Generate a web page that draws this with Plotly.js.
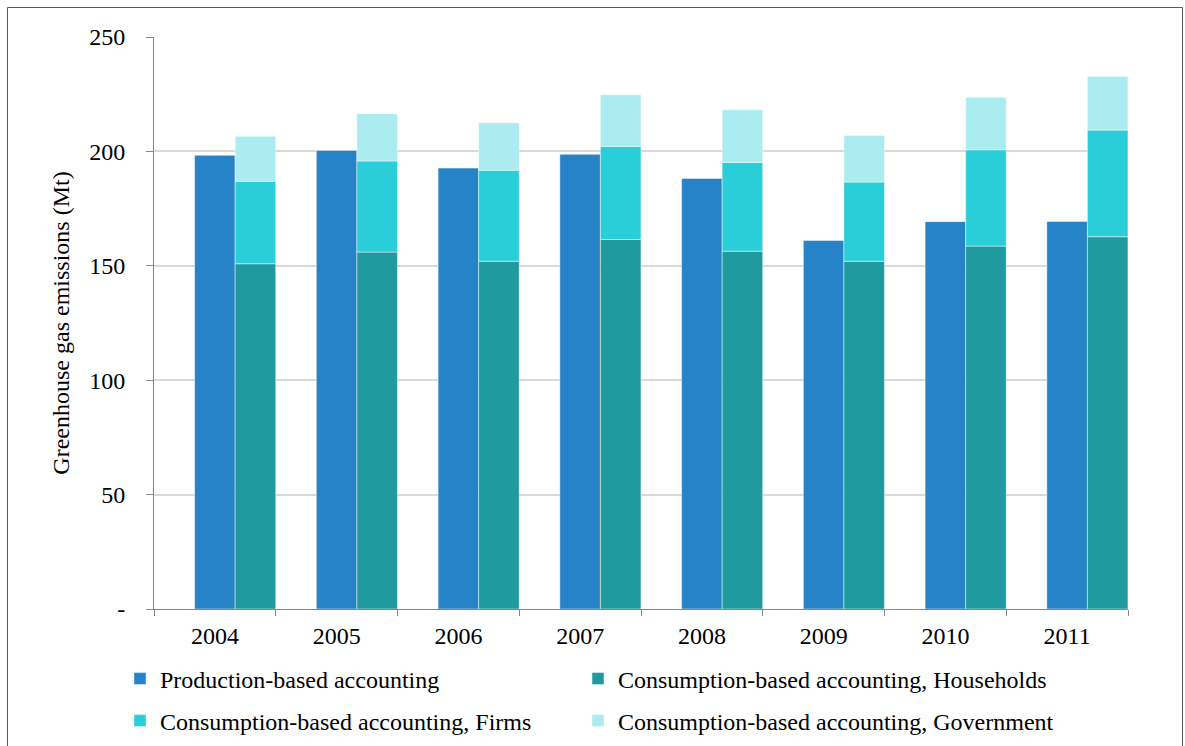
<!DOCTYPE html>
<html>
<head>
<meta charset="utf-8">
<script src="https://cdn.plot.ly/plotly-3.0.1.min.js"></script>
<style>
html,body{margin:0;padding:0;background:#fff;}
#chart{width:1185px;height:746px;}
</style>
</head>
<body>
<div id="chart"></div>
<script>
const years = ['2004','2005','2006','2007','2008','2009','2010','2011'];
const production = [198.3, 200.4, 192.7, 198.7, 188.2, 161.1, 169.3, 169.4];
const households = [150.9, 156.0, 152.0, 161.5, 156.4, 152.0, 158.6, 162.7];
const firms = [36.0, 39.8, 39.8, 40.7, 38.8, 34.6, 42.1, 46.6];
const government = [19.7, 20.7, 20.7, 22.6, 23.0, 20.3, 22.9, 23.5];
const yTickVals = [0, 50, 100, 150, 200, 250];
const yTickText = ['-', '50', '100', '150', '200', '250'];

const firmsBase = households.slice();
const govBase = households.map((v, i) => v + firms[i]);

const FONT = 'Liberation Serif';
const FS = 24;
const barLine = {color: 'rgba(255,255,255,0.45)', width: 1};
const W = 0.333;

const traces = [
  {type:'bar', name:'Production-based accounting', x:years, y:production,
   width:W, offset:-W/2, marker:{color:'#2783C7', line:barLine}, legend:'legend'},
  {type:'bar', name:'Consumption-based accounting, Households', x:years, y:households,
   width:W, offset:W/2, marker:{color:'#1F9A9F', line:barLine}, legend:'legend2'},
  {type:'bar', name:'Consumption-based accounting, Firms', x:years, y:firms, base:firmsBase,
   width:W, offset:W/2, marker:{color:'#29CED8', line:barLine}, legend:'legend3'},
  {type:'bar', name:'Consumption-based accounting, Government', x:years, y:government, base:govBase,
   width:W, offset:W/2, marker:{color:'#AAECF0', line:barLine}, legend:'legend4'}
];

const legendCommon = {
  orientation:'h',
  font:{family:FONT, size:FS, color:'#000'}, bgcolor:'rgba(0,0,0,0)',
  xanchor:'left', yanchor:'middle', traceorder:'normal'
};
const col1 = (120 - 154) / 974, col2 = (578 - 154) / 974;
const row1 = (609 - 679) / 572, row2 = (609 - 721) / 572;

const layout = {
  width:1185, height:746,
  margin:{l:154, r:57, t:37, b:137, autoexpand:false},
  paper_bgcolor:'#fff', plot_bgcolor:'#fff',
  barmode:'overlay',
  font:{family:FONT, size:FS, color:'#000'},
  showlegend:true,
  xaxis:{
    type:'category', range:[-0.5, 7.5], tickson:'boundaries', automargin:false,
    ticks:'outside', ticklen:6, tickcolor:'#868686', tickwidth:1,
    showline:true, linecolor:'#868686', linewidth:1,
    showgrid:false, zeroline:false,
    tickfont:{family:FONT, size:FS, color:'#000'}, ticklabelstandoff:5
  },
  yaxis:{
    range:[0, 250], tickvals:yTickVals, ticktext:yTickText, automargin:false,
    ticks:'outside', ticklen:7, tickcolor:'#868686', tickwidth:1,
    showline:true, linecolor:'#868686', linewidth:1,
    showgrid:true, gridcolor:'#D9D9D9', gridwidth:1.5, zeroline:false,
    tickfont:{family:FONT, size:FS, color:'#000'}, ticklabelstandoff:16,
    title:{text:'Greenhouse gas emissions (Mt)', font:{family:FONT, size:FS, color:'#000'}, standoff:12}
  },
  legend:Object.assign({}, legendCommon, {x:col1, y:row1}),
  legend2:Object.assign({}, legendCommon, {x:col2, y:row1}),
  legend3:Object.assign({}, legendCommon, {x:col1, y:row2}),
  legend4:Object.assign({}, legendCommon, {x:col2, y:row2}),
  shapes:[{
    type:'rect', xref:'paper', yref:'paper',
    x0:(7.5-154)/974, x1:(1182.5-154)/974, y0:(609-760)/572, y1:(609-7.5)/572,
    line:{color:'#595959', width:1}, fillcolor:'rgba(0,0,0,0)', layer:'below'
  }]
};

Plotly.newPlot('chart', traces, layout, {displayModeBar:false});
</script>
</body>
</html>
